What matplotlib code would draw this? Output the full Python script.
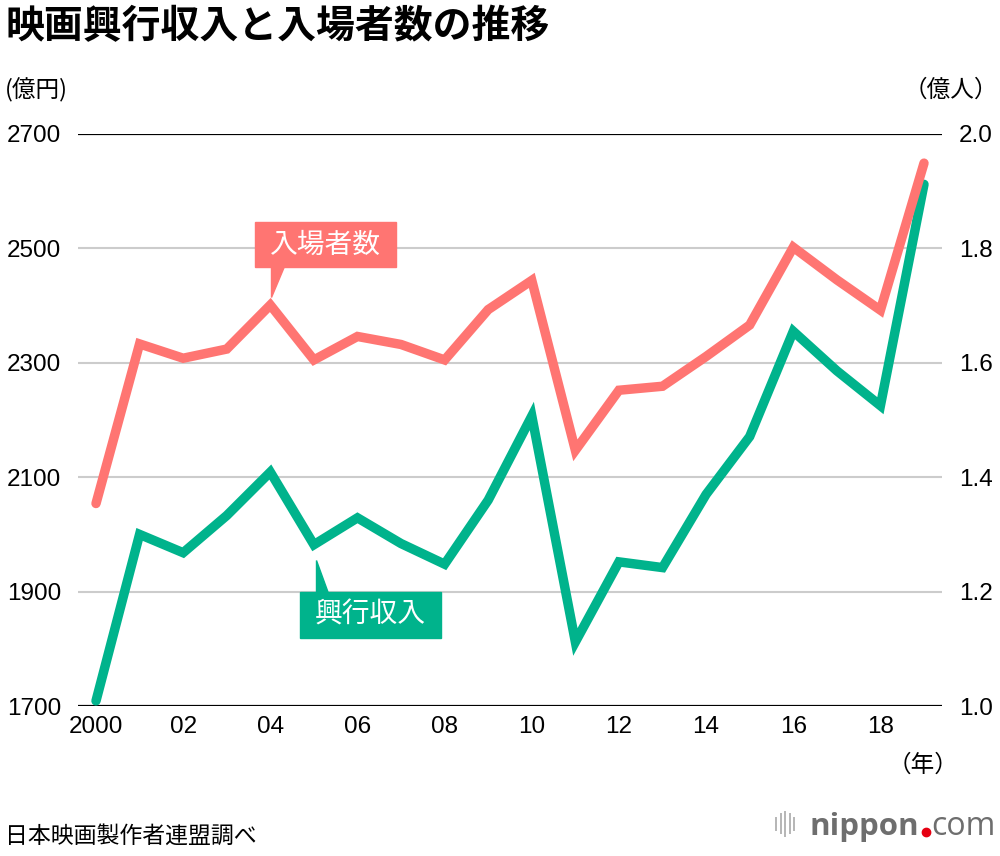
import matplotlib
matplotlib.use("Agg")
import matplotlib.pyplot as plt
import matplotlib.patches as mpatches
from matplotlib.transforms import IdentityTransform

plt.rcParams['font.family'] = ['Liberation Sans', 'Noto Sans CJK JP', 'DejaVu Sans']

years = list(range(2000, 2020))
revenue = [1709, 2000, 1968, 2033, 2109, 1982, 2029, 1984, 1948, 2060,
           2207, 1812, 1952, 1942, 2070, 2171, 2355, 2286, 2225, 2612]  # 億円
admissions = [1.354, 1.633, 1.608, 1.624, 1.701, 1.605, 1.646, 1.632, 1.605, 1.693,
              1.744, 1.447, 1.552, 1.559, 1.611, 1.666, 1.802, 1.745, 1.692, 1.949]  # 億人
left_ticks = [1700, 1900, 2100, 2300, 2500, 2700]
right_ticks = [1.0, 1.2, 1.4, 1.6, 1.8, 2.0]
xtick_years = list(range(2000, 2019, 2))
xtick_labels = ["2000", "02", "04", "06", "08", "10", "12", "14", "16", "18"]

green = "#00b38c"
salmon = "#ff7572"
jp = ['Noto Sans CJK JP', 'DejaVu Sans']
logo_font = ['Open Sans', 'DejaVu Sans']

fig = plt.figure(figsize=(10, 8.56), dpi=100)
ax = fig.add_axes([0.078, 0.1752, 0.864, 0.6683])
ax2 = ax.twinx()

ax.set_xlim(1999.587, 2019.413)
ax.set_ylim(1700, 2700)
ax2.set_ylim(1.0, 2.0)

for v in left_ticks:
    if v in (1700, 2700):
        ax.axhline(v, color="black", lw=1.6, zorder=1)
    else:
        ax.axhline(v, color="#cccccc", lw=1.5, zorder=1)

ax.plot(years, revenue, color=green, lw=6.8, solid_capstyle="round",
        solid_joinstyle="miter", zorder=3)
ax2.plot(years, admissions, color=salmon, lw=6.8, solid_capstyle="round",
         solid_joinstyle="miter", zorder=3)

for a in (ax, ax2):
    for s in a.spines.values():
        s.set_visible(False)

ax.set_yticks(left_ticks)
ax.set_yticklabels([str(v) for v in left_ticks])
ax2.set_yticks(right_ticks)
ax2.set_yticklabels([f"{v:.1f}" for v in right_ticks])
ax.set_xticks(xtick_years)
ax.set_xticklabels(xtick_labels)
ax.tick_params(axis="y", length=0, pad=12, labelsize=17.5)
ax2.tick_params(axis="y", length=0, pad=12, labelsize=17.5)
ax.tick_params(axis="x", length=0, pad=7, labelsize=17.5)

# titles and units
fig.text(0.005, 0.992, "映画興行収入と入場者数の推移", family=jp, fontsize=28,
         fontweight="bold", va="top", ha="left")
fig.text(0.005, 0.895, "(億円)", family=jp, fontsize=17, va="center", ha="left")
fig.text(0.998, 0.895, "（億人）", family=jp, fontsize=17, va="center", ha="right")
fig.text(0.958, 0.106, "（年）", family=jp, fontsize=17, va="center", ha="right")
fig.text(0.005, 0.010, "日本映画製作者連盟調べ", family=jp, fontsize=16.5, va="bottom", ha="left")

# nippon.com logo
fig.text(0.809, 0.024, "nippon", family=logo_font, fontsize=22.5,
         fontweight="bold", color="#6e6e6e", va="baseline", ha="left")
fig.add_artist(plt.Line2D([0.9255], [0.0275], marker="o", markersize=6,
                          color="#e60012", linestyle="none"))
fig.text(0.931, 0.024, "com", family=logo_font, fontsize=23,
         color="#6e6e6e", va="baseline", ha="left")
for i, h in enumerate([0.014, 0.022, 0.028, 0.022, 0.014]):
    xx = 0.776 + i * 0.0045
    fig.add_artist(plt.Line2D([xx, xx], [0.0375 - h / 2, 0.0375 + h / 2],
                              color="#b5b5b5", lw=1.4))


def callout(axis, x, y, label, color, above):
    px, py = axis.transData.transform((x, y))
    if above:
        tip = (px + 1, py + 8)
        base_y = py + 38
        top_y = py + 83
        tri = [tip, (px + 1, base_y + 1), (px + 14, base_y + 1)]
        x0, x1 = px - 15, px + 126
        y0, y1 = base_y, top_y
    else:
        tip = (px + 2, py - 15)
        base_y = py - 47
        tri = [tip, (px + 2, base_y - 1), (px + 14, base_y - 1)]
        x0, x1 = px - 14, px + 127
        y0, y1 = py - 93, base_y
    fig.add_artist(mpatches.Polygon(tri, closed=True, color=color,
                                    transform=IdentityTransform(), zorder=5))
    fig.add_artist(mpatches.Rectangle((x0, y0), x1 - x0, y1 - y0, color=color,
                                      transform=IdentityTransform(), zorder=5))
    fig.text((x0 + x1) / 2 / fig.dpi / fig.get_figwidth(),
             (y0 + y1) / 2 / fig.dpi / fig.get_figheight(),
             label, family=jp, fontsize=20, color="white",
             ha="center", va="center", zorder=6)


callout(ax2, years[4], admissions[4], "入場者数", salmon, True)
callout(ax, years[5], revenue[5], "興行収入", green, False)

fig.savefig("out.png", dpi=100)
